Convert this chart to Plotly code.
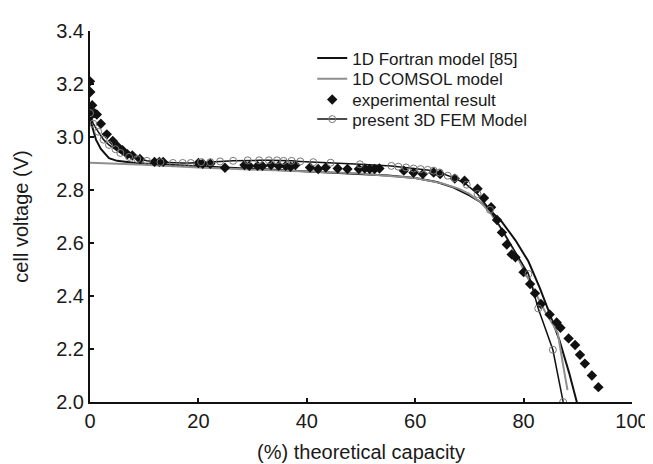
import plotly.graph_objects as go

# ---- data ----
fortran_x = [0, 0.25, 1.1, 2.0, 3.5, 5.0, 8, 10, 20, 30, 40, 50, 55, 60, 64, 67, 70, 72, 74, 76, 78.5, 80.9, 83.0, 84.8, 86.6, 88.4, 89.4, 90.2]
fortran_v = [3.08, 3.05, 2.99, 2.955, 2.92, 2.91, 2.903, 2.90, 2.89, 2.88, 2.87, 2.86, 2.855, 2.845, 2.83, 2.81, 2.78, 2.755, 2.72, 2.68, 2.61, 2.53, 2.43, 2.334, 2.234, 2.11, 2.037, 1.97]

comsol_x = [0, 5, 10, 20, 30, 40, 50, 54, 60, 65, 68, 70, 72, 74, 76, 78, 80, 82, 84, 85.5, 86.3, 87.2, 88.1]
comsol_v = [2.903, 2.9, 2.895, 2.885, 2.877, 2.87, 2.862, 2.855, 2.845, 2.825, 2.805, 2.785, 2.755, 2.71, 2.65, 2.58, 2.50, 2.42, 2.34, 2.29, 2.26, 2.15, 2.045]

exp_x = [0, 0.05, 0.1, 0.2, 0.4, 0.85, 1.26, 2.0, 3.1, 4.2, 5.05, 6.0, 6.9, 7.8, 9.2, 11.9, 12.8, 13.5,
         20.0, 20.8, 22.2, 24.9, 28.5, 29.4, 30.9, 31.8, 33.4, 34.8, 36.1, 37.0, 37.9, 40.6, 42.1, 43.5,
         45.7, 47.5, 49.6, 50.7, 51.6, 52.5, 53.4, 57.9, 59.7, 61.4, 63.4, 64.6, 67.3, 69.1, 71.5, 72.7,
         74.0, 75.1, 76.0, 76.9, 77.8, 78.5, 80.0, 81.2, 82.1, 83.2, 84.8, 86.1, 86.8, 88.3, 89.5, 90.4,
         91.3, 92.6, 93.8]
exp_v = [3.21, 3.17, 3.08, 3.09, 3.12, 3.09, 3.085, 3.05, 3.01, 2.985, 2.965, 2.95, 2.935, 2.93, 2.917, 2.906, 2.906, 2.906,
         2.902, 2.899, 2.899, 2.884, 2.894, 2.891, 2.891, 2.891, 2.894, 2.891, 2.891, 2.888, 2.894, 2.885, 2.879, 2.885,
         2.881, 2.879, 2.879, 2.881, 2.879, 2.879, 2.881, 2.873, 2.865, 2.86, 2.866, 2.86, 2.843, 2.835, 2.805, 2.77,
         2.735, 2.687, 2.64, 2.594, 2.557, 2.546, 2.49, 2.445, 2.41, 2.37, 2.33, 2.30, 2.28, 2.24, 2.215, 2.178,
         2.145, 2.10, 2.056]

fem_x = [0, 0.6, 1.5, 2.5, 3.5, 4.7, 5.6, 7.2, 8.7, 10.5, 13, 15.3, 17.1, 18.6, 20.5, 22.2, 24, 26.4, 29.1, 31.2,
         33, 34.5, 35.7, 37.2, 38.8, 41.2, 44.4, 49.8, 55.6, 56.9, 58.3, 59.7, 61, 62.3, 63.4, 64.5, 66, 67.3,
         69.5, 71.5, 73.8, 80.9, 82.7, 85.4, 87.3]
fem_v = [3.09, 3.05, 3.02, 2.99, 2.97, 2.954, 2.94, 2.925, 2.917, 2.91, 2.905, 2.902, 2.902, 2.902, 2.905, 2.905, 2.908, 2.91, 2.912, 2.912,
         2.912, 2.912, 2.91, 2.91, 2.908, 2.905, 2.903, 2.897, 2.891, 2.888, 2.885, 2.881, 2.879, 2.876, 2.873, 2.866, 2.854, 2.845,
         2.82, 2.785, 2.725, 2.483, 2.353, 2.197, 2.0]

x_ticks = [0, 20, 40, 60, 80, 100]
y_ticks = [2.0, 2.2, 2.4, 2.6, 2.8, 3.0, 3.2, 3.4]

FONT = "Liberation Sans, Arial, Helvetica, sans-serif"
INK = "#1a1a1a"

fig = go.Figure()
fig.add_trace(go.Scatter(x=fortran_x, y=fortran_v, mode="lines", name="1D Fortran model [85]",
                         line=dict(color="#111111", width=2), legend="legend"))
fig.add_trace(go.Scatter(x=comsol_x, y=comsol_v, mode="lines", name="1D COMSOL model",
                         line=dict(color="#8f8f8f", width=2), legend="legend2"))
fig.add_trace(go.Scatter(x=exp_x, y=exp_v, mode="markers", name="experimental result",
                         marker=dict(symbol="diamond", size=8, color="#111111", line=dict(width=0)),
                         legend="legend3"))
fig.add_trace(go.Scatter(x=fem_x, y=fem_v, mode="lines+markers", name="present 3D FEM Model",
                         line=dict(color="#111111", width=1.5),
                         marker=dict(symbol="circle-open", size=7, color="#777777", line=dict(width=1)),
                         legend="legend4"))

def leg(ypix):
    return dict(x=0.41, y=1 - (ypix - 23) / 377, xanchor="left", yanchor="middle",
                font=dict(family=FONT, size=17, color=INK),
                bgcolor="rgba(0,0,0,0)", borderwidth=0)

fig.update_layout(
    width=653, height=464,
    margin=dict(l=82, r=17, t=23, b=64),
    paper_bgcolor="white", plot_bgcolor="white",
    font=dict(family=FONT, color=INK, size=20),
    showlegend=True,
    legend=leg(51), legend2=leg(72), legend3=leg(93), legend4=leg(113),
    xaxis=dict(range=[0, 100], tickvals=x_ticks, ticktext=[str(v) for v in x_ticks],
               ticks="inside", ticklen=4, tickwidth=2, tickcolor="#111",
               showline=True, linewidth=2, linecolor="#111", showgrid=False, zeroline=False,
               tickfont=dict(size=20),
               title=dict(text="(%) theoretical capacity", font=dict(size=20), standoff=14)),
    yaxis=dict(range=[2.0, 3.4], tickvals=y_ticks, ticktext=[f"{v:.1f}" for v in y_ticks],
               ticks="inside", ticklen=4, tickwidth=2, tickcolor="#111",
               showline=True, linewidth=2, linecolor="#111", showgrid=False, zeroline=False,
               tickfont=dict(size=20),
               title=dict(text="cell voltage (V)", font=dict(size=20), standoff=22)),
)

fig.write_html("out.html")
